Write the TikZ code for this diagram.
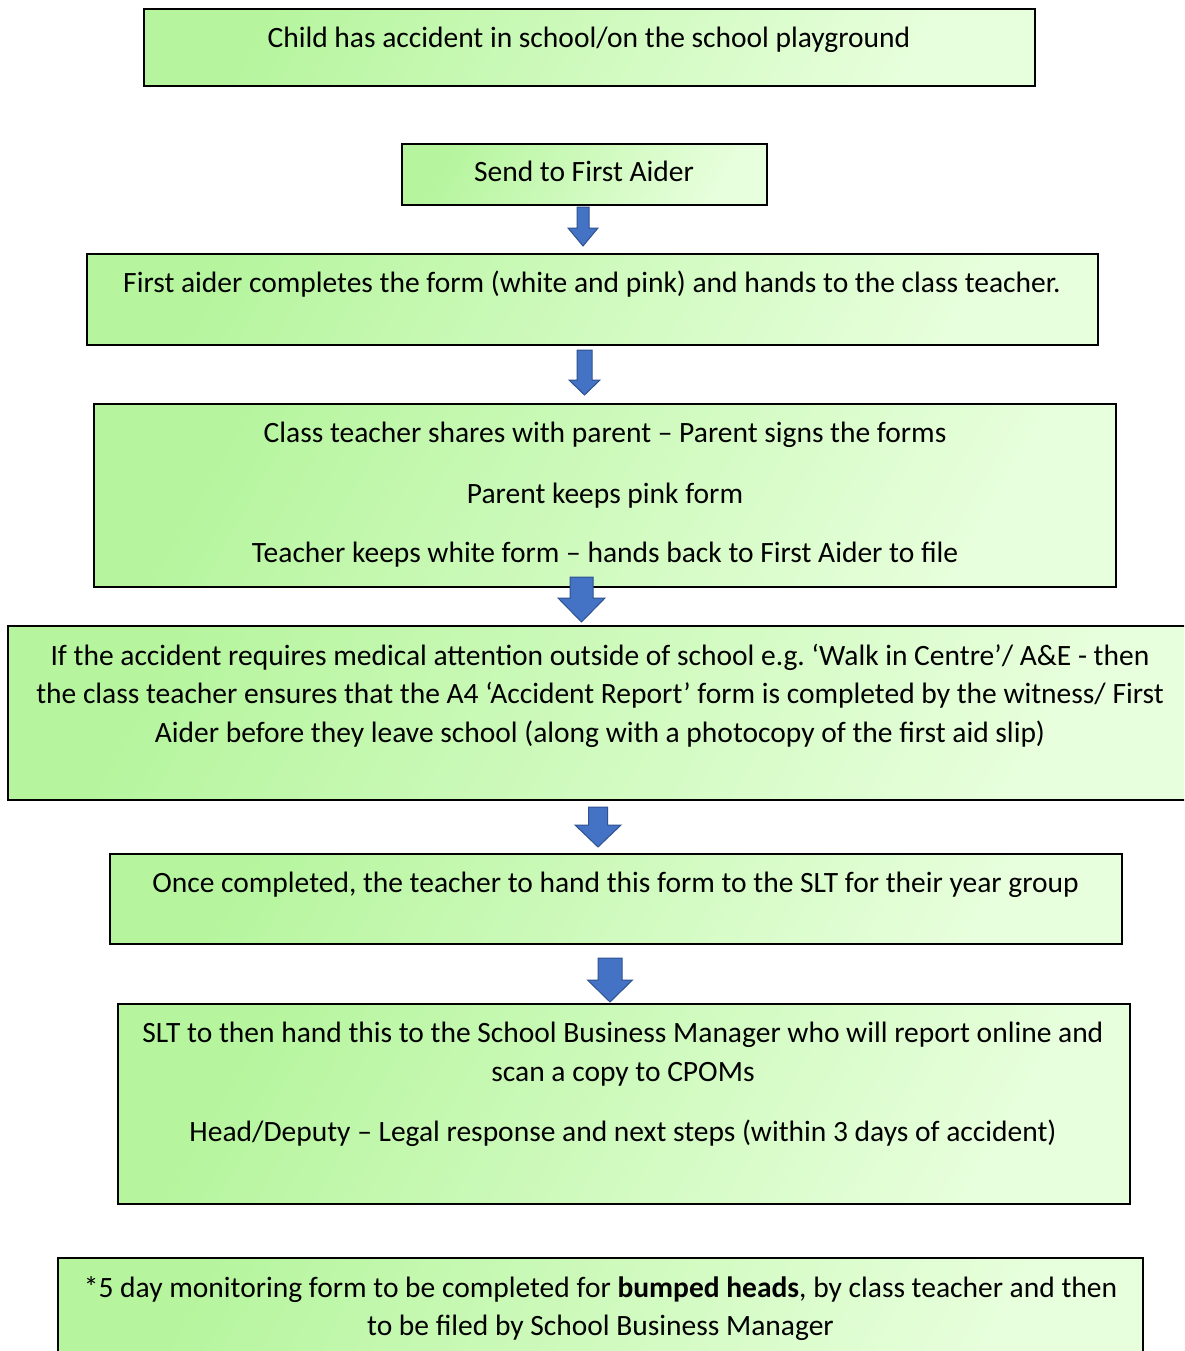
\documentclass[tikz,border=0pt]{standalone}
\usepackage{fontspec}
\setmainfont{Carlito}
\definecolor{gA}{HTML}{B6F59E}
\definecolor{gB}{HTML}{E8FFDD}
\definecolor{arrF}{HTML}{4472C4}
\definecolor{arrD}{HTML}{2F528F}
\tikzset{
  box/.style={draw=black, line width=1.6pt, left color=gA, right color=gB, shading angle=60, inner sep=0pt},
  txt/.style={anchor=base, inner sep=0pt, font=\fontsize{29.5}{38}\selectfont},
  blockarrow/.style={fill=arrF, draw=arrD, line width=1pt, line join=miter}
}
% x, ytop, ybot, yhead, half shaft, half head
\newcommand{\bluearrow}[6]{%
  \draw[blockarrow] (#1-#5,#2) -- (#1+#5,#2) -- (#1+#5,#4) -- (#1+#6,#4) -- (#1,#3) -- (#1-#6,#4) -- (#1-#5,#4) -- cycle;}
\frenchspacing
\begin{document}
\begin{tikzpicture}[x=1pt,y=-1pt]
\clip (0,0) rectangle (1184,1351);
\fill[white] (0,0) rectangle (1184,1351);

\node[box, minimum width=891pt, minimum height=77pt] (b1) at (589.5,47.5) {};
\node[box, minimum width=365pt, minimum height=61pt] (b2) at (584.5,174.5) {};
\node[box, minimum width=1011pt, minimum height=91pt] (b3) at (592.5,299.5) {};
\node[box, minimum width=1022pt, minimum height=183pt] (b4) at (605,495.5) {};
\node[box, minimum width=1187pt, minimum height=174pt] (b5) at (601.5,713) {};
\node[box, minimum width=1012pt, minimum height=90pt] (b6) at (616,899) {};
\node[box, minimum width=1012pt, minimum height=200pt] (b7) at (624,1104) {};
\node[box, minimum width=1085pt, minimum height=112pt] (b8) at (600.5,1314) {};

\node[txt] (t1) at (589,48) {Child has accident in school/on the school playground};
\node[txt] (t2) at (584,182) {Send to First Aider};
\node[txt] (t3) at (592,292) {First aider completes the form (white and pink) and hands to the class teacher.};
\node[txt] (t4a) at (605,442) {Class teacher shares with parent – Parent signs the forms};
\node[txt] (t4b) at (605,503) {Parent keeps pink form};
\node[txt] (t4c) at (605,562) {Teacher keeps white form – hands back to First Aider to file};
\node[txt] (t5a) at (600,665) {If the accident requires medical attention outside of school e.g. ‘Walk in Centre’/ A\&E - then};
\node[txt] (t5b) at (600,703) {the class teacher ensures that the A4 ‘Accident Report’ form is completed by the witness/ First};
\node[txt] (t5c) at (600,742) {Aider before they leave school (along with a photocopy of the first aid slip)};
\node[txt] (t6) at (615.5,892) {Once completed, the teacher to hand this form to the SLT for their year group};
\node[txt] (t7a) at (623,1042) {SLT to then hand this to the School Business Manager who will report online and};
\node[txt] (t7b) at (623,1081) {scan a copy to CPOMs};
\node[txt] (t7c) at (623,1141) {Head/Deputy – Legal response and next steps (within 3 days of accident)};
\node[txt] (t8a) at (600.5,1297) {*5 day monitoring form to be completed for \textbf{bumped heads}, by class teacher and then};
\node[txt] (t8b) at (600.5,1335) {to be filed by School Business Manager};

\bluearrow{583}{207}{246}{228}{6}{15}
\bluearrow{584.5}{350}{395}{380}{7.5}{15.5}
\bluearrow{581.5}{577}{622}{598}{11.5}{23.5}
\bluearrow{598}{807}{847}{825}{9.5}{23}
\bluearrow{610}{958}{1002}{980}{12}{22.5}
\end{tikzpicture}
\end{document}
